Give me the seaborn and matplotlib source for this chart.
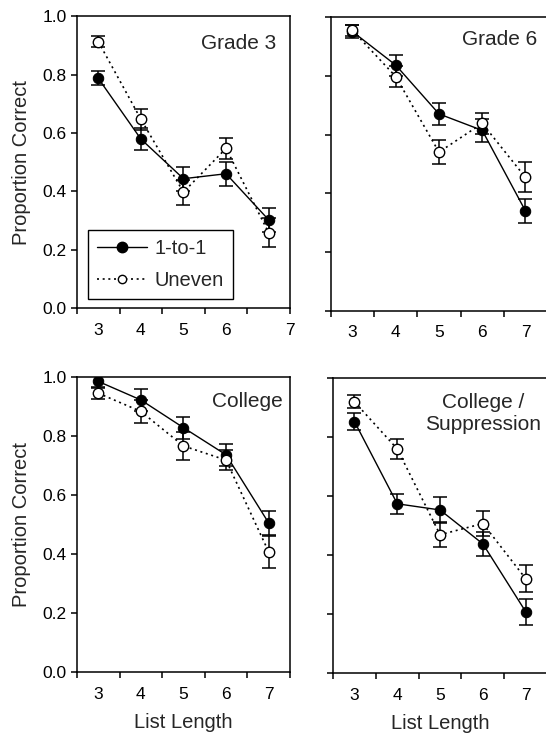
import numpy as np
import pandas as pd
import matplotlib
matplotlib.use("Agg")
import matplotlib.pyplot as plt
import seaborn as sns
from matplotlib.lines import Line2D

sns.set_style("ticks")
plt.rcParams['font.family'] = ['Liberation Sans', 'DejaVu Sans']

# data
list_length = [3, 4, 5, 6, 7]
panels = ["Grade 3", "Grade 6", "College", "College /\nSuppression"]

one_to_one = {
    "Grade 3": [0.787, 0.579, 0.443, 0.460, 0.302],
    "Grade 6": [0.950, 0.836, 0.670, 0.614, 0.340],
    "College": [0.986, 0.923, 0.829, 0.737, 0.506],
    "College /\nSuppression": [0.853, 0.574, 0.553, 0.438, 0.208],
}
one_to_one_err = {
    "Grade 3": [0.024, 0.037, 0.041, 0.041, 0.042],
    "Grade 6": [0.022, 0.036, 0.038, 0.040, 0.040],
    "College": [0.021, 0.036, 0.037, 0.038, 0.041],
    "College /\nSuppression": [0.028, 0.034, 0.044, 0.040, 0.044],
}
uneven = {
    "Grade 3": [0.913, 0.647, 0.397, 0.547, 0.258],
    "Grade 6": [0.954, 0.797, 0.540, 0.638, 0.454],
    "College": [0.946, 0.884, 0.767, 0.719, 0.408],
    "College /\nSuppression": [0.920, 0.760, 0.469, 0.507, 0.320],
}
uneven_err = {
    "Grade 3": [0.018, 0.036, 0.043, 0.037, 0.050],
    "Grade 6": [0.020, 0.036, 0.042, 0.036, 0.051],
    "College": [0.020, 0.038, 0.046, 0.035, 0.054],
    "College /\nSuppression": [0.022, 0.034, 0.042, 0.041, 0.046],
}

# axes rectangles in figure fractions
rects = {
    "Grade 3": [0.141, 0.581, 0.390, 0.397],
    "Grade 6": [0.606, 0.577, 0.396, 0.400],
    "College": [0.141, 0.0857, 0.390, 0.401],
    "College /\nSuppression": [0.610, 0.0844, 0.392, 0.401],
}
title_pos = {
    "Grade 3": (0.934, 0.908, 'right'),
    "Grade 6": (0.954, 0.922, 'right'),
    "College": (0.967, 0.919, 'right'),
    "College /\nSuppression": (0.70, 0.88, 'center'),
}

fig = plt.figure(figsize=(5.46, 7.35), dpi=100)

for i, name in enumerate(panels):
    ax = fig.add_axes(rects[name])
    df = pd.DataFrame({"length": list_length,
                       "one": one_to_one[name], "one_err": one_to_one_err[name],
                       "unev": uneven[name], "unev_err": uneven_err[name]})

    # 1-to-1 : solid line, filled markers
    ax.errorbar(df["length"], df["one"], yerr=df["one_err"], fmt='none',
                ecolor='black', elinewidth=1.1, capsize=5, capthick=1.1, zorder=2)
    sns.lineplot(data=df, x="length", y="one", ax=ax, color='black', lw=1.0,
                 marker='o', markersize=7.5, markerfacecolor='black',
                 markeredgecolor='black', zorder=3)
    # uneven : dotted line, open markers
    ax.errorbar(df["length"], df["unev"], yerr=df["unev_err"], fmt='none',
                ecolor='black', elinewidth=1.1, capsize=5, capthick=1.1, zorder=4)
    sns.lineplot(data=df, x="length", y="unev", ax=ax, color='black', lw=1.2,
                 linestyle=(0, (1.2, 2.2)), marker='o', markersize=7.5,
                 markerfacecolor='white', markeredgecolor='black',
                 markeredgewidth=1.0, zorder=5)

    ax.set_xlim(2.5, 7.5)
    ax.set_ylim(0, 1.0)
    for sp in ax.spines.values():
        sp.set_linewidth(1.1)
        sp.set_color('black')

    # tick marks between categories, labels on the categories
    if name == "Grade 3":
        ax.set_xticks([2.5, 3.5, 4.5, 5.5, 6.5, 7.5])
        ax.set_xticklabels(["", "", "", "", "", "7"])
        ax.set_xticks([3, 4, 5, 6], minor=True)
        ax.set_xticklabels(["3", "4", "5", "6"], minor=True)
    else:
        ax.set_xticks([2.5, 3.5, 4.5, 5.5, 6.5, 7.5])
        ax.set_xticklabels([""] * 6)
        ax.set_xticks(list_length, minor=True)
        ax.set_xticklabels([str(v) for v in list_length], minor=True)
    ax.tick_params(axis='x', which='major', direction='out', length=4.5, width=1.1,
                   labelsize=12.5, pad=6, colors='black')
    ax.tick_params(axis='x', which='minor', length=0, labelsize=12.5, pad=10.5,
                   colors='black')

    ax.set_yticks(np.arange(0, 1.01, 0.2))
    if i % 2 == 0:
        ax.set_yticklabels([f"{v:.1f}" for v in np.arange(0, 1.01, 0.2)])
        ax.set_ylabel("Proportion Correct", fontsize=14.5, labelpad=8)
    else:
        ax.set_yticklabels([])
        ax.set_ylabel("")
    ax.tick_params(axis='y', direction='out', length=4.5, width=1.1,
                   labelsize=12.5, pad=3, colors='black')

    if i >= 2:
        ax.set_xlabel("List Length", fontsize=14.5, labelpad=8)
    else:
        ax.set_xlabel("")

    tx, ty, ha = title_pos[name]
    ax.text(tx, ty, name, transform=ax.transAxes, ha=ha, va='center',
            fontsize=15, linespacing=1.15, multialignment='center')

    if ax.get_legend() is not None:
        ax.get_legend().remove()

    if name == "Grade 3":
        handles = [
            Line2D([0], [0], color='black', lw=1.0, marker='o', markersize=7.5,
                   markerfacecolor='black', markeredgecolor='black'),
            Line2D([0], [0], color='black', lw=1.2, linestyle=(0, (1.2, 2.2)),
                   marker='o', markersize=6, markerfacecolor='white',
                   markeredgecolor='black'),
        ]
        leg = ax.legend(handles, ["1-to-1", "Uneven"], loc='lower left',
                        bbox_to_anchor=(0.052, 0.031), borderaxespad=0,
                        fontsize=14.5, frameon=True, fancybox=False,
                        handlelength=2.5, handletextpad=0.35, borderpad=0.45,
                        labelspacing=0.65)
        leg.get_frame().set_edgecolor('black')
        leg.get_frame().set_linewidth(1.0)
        leg.get_frame().set_alpha(1)

fig.savefig("out.png", dpi=100)
